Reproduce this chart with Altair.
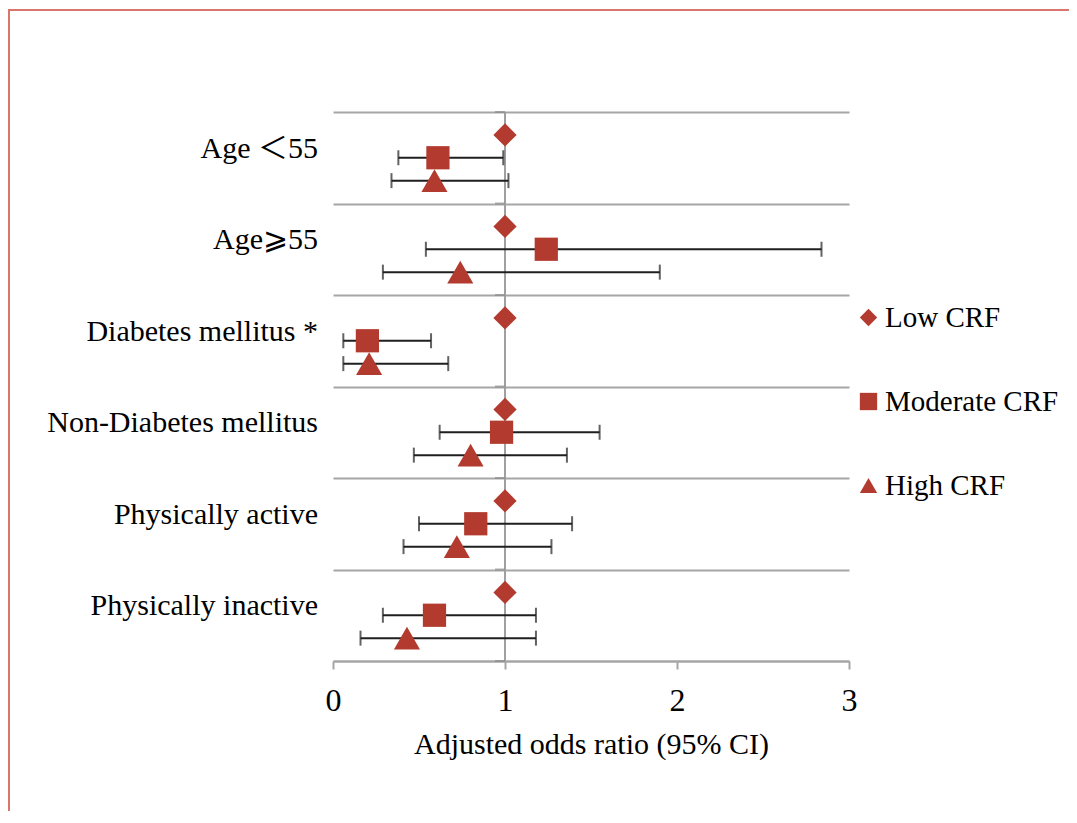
import altair as alt
import pandas as pd

# ---- data ----
groups = ["Age \uFF1C55", "Age\u2A7E55", "Diabetes mellitus *",
          "Non-Diabetes mellitus", "Physically active", "Physically inactive"]
series = ["Low CRF", "Moderate CRF", "High CRF"]

low_or = [1.0, 1.0, 1.0, 1.0, 1.0, 1.0]

mod_or = [0.61, 1.24, 0.20, 0.98, 0.83, 0.59]
mod_lo = [0.38, 0.54, 0.06, 0.62, 0.50, 0.29]
mod_hi = [0.99, 2.84, 0.57, 1.55, 1.39, 1.18]

high_or = [0.59, 0.74, 0.21, 0.80, 0.72, 0.43]
high_lo = [0.34, 0.29, 0.06, 0.47, 0.41, 0.16]
high_hi = [1.02, 1.90, 0.67, 1.36, 1.27, 1.18]

x_ticks = [0, 1, 2, 3]
ref_value = [1.0]
band_edges = [0, 1, 2, 3, 4, 5, 6]
row_offset = {"Low CRF": 0.25, "Moderate CRF": 0.5, "High CRF": 0.75}

# ---- tables ----
rows = []
for i, g in enumerate(groups):
    rows.append(dict(group=g, series="Low CRF", pos=i + row_offset["Low CRF"],
                     odds=low_or[i], lo=None, hi=None))
    rows.append(dict(group=g, series="Moderate CRF", pos=i + row_offset["Moderate CRF"],
                     odds=mod_or[i], lo=mod_lo[i], hi=mod_hi[i]))
    rows.append(dict(group=g, series="High CRF", pos=i + row_offset["High CRF"],
                     odds=high_or[i], lo=high_lo[i], hi=high_hi[i]))
df = pd.DataFrame(rows)
ci = df.dropna(subset=["lo"]).copy()
caps = pd.concat([
    ci[["pos"]].assign(val=ci["lo"]),
    ci[["pos"]].assign(val=ci["hi"]),
])
labels_df = pd.DataFrame({"group": groups, "lpos": [i + 0.5 for i in range(len(groups))]})
ref_df = pd.DataFrame({"ref": ref_value})
edge_df = pd.DataFrame({"edge": band_edges, "ref": [ref_value[0]] * len(band_edges)})

FONT = "Liberation Serif, DejaVu Serif, Noto Sans CJK SC"
RED = "#B33A2E"
GRID = "#A6A6A6"
BAR = "#1F1F1F"

xscale = alt.Scale(domain=[0, 3], nice=False, zero=False)
yscale = alt.Scale(domain=[0, 6], nice=False, zero=False, reverse=True)
xaxis = alt.Axis(values=x_ticks, grid=False, domainColor=GRID, domainWidth=2,
                 tickColor=GRID, tickWidth=2, tickSize=8, format="d", labelFlush=False,
                 labelFont=FONT, labelFontSize=32, labelColor="black", labelPadding=16,
                 title="Adjusted odds ratio (95% CI)", titleFont=FONT, titleFontSize=30,
                 titleFontWeight="normal", titleColor="black", titlePadding=13)
yaxis = alt.Axis(values=band_edges, grid=True, gridColor=GRID, gridWidth=2,
                 labels=False, ticks=False, domain=False, title=None)

base = alt.Chart(df)

border = alt.Chart(ref_df).mark_rect(fillOpacity=0, stroke="#D9766C", strokeWidth=2).encode(
    x=alt.value(-324), x2=alt.value(1400), y=alt.value(-102), y2=alt.value(1400))

vline = alt.Chart(ref_df).mark_rule(color="#A0A0A0", strokeWidth=2).encode(
    x=alt.X("ref:Q", scale=xscale, axis=xaxis))

yticks = alt.Chart(edge_df).mark_tick(orient="horizontal", size=10, thickness=2,
                                       xOffset=-5, color="#8C8C8C").encode(
    x=alt.X("ref:Q", scale=xscale, axis=xaxis),
    y=alt.Y("edge:Q", scale=yscale, axis=yaxis))

bars = alt.Chart(ci).mark_rule(color=BAR, strokeWidth=2).encode(
    x=alt.X("lo:Q", scale=xscale, axis=xaxis), x2="hi:Q",
    y=alt.Y("pos:Q", scale=yscale, axis=yaxis))

capmarks = alt.Chart(caps).mark_tick(orient="vertical", size=15, thickness=2, color=BAR).encode(
    x=alt.X("val:Q", scale=xscale, axis=xaxis),
    y=alt.Y("pos:Q", scale=yscale, axis=yaxis))

points = base.mark_point(filled=True, opacity=1, color=RED).encode(
    x=alt.X("odds:Q", scale=xscale, axis=xaxis),
    y=alt.Y("pos:Q", scale=yscale, axis=yaxis),
    shape=alt.Shape("series:N",
                    scale=alt.Scale(domain=series, range=["diamond", "square", "triangle-up"]),
                    legend=alt.Legend(orient="none", legendX=521, legendY=191, title=None,
                                      labelFont=FONT, labelFontSize=29, labelColor="black",
                                      labelLimit=400,
                                      symbolSize=300, symbolFillColor=RED,
                                      symbolStrokeColor=RED, symbolStrokeWidth=0,
                                      rowPadding=54, labelOffset=2, padding=0)),
    size=alt.condition("datum.series === 'High CRF'", alt.value(680), alt.value(540)))

texts = alt.Chart(labels_df).mark_text(align="right", baseline="middle", font=FONT,
                                       fontSize=30, color="black", dy=-9).encode(
    x=alt.value(-15),
    y=alt.Y("lpos:Q", scale=yscale, axis=yaxis),
    text="group:N")

chart = alt.layer(border, vline, yticks, bars, capmarks, points, texts).properties(
    width=516, height=549,
    autosize=alt.AutoSizeParams(type="none"),
    padding={"left": 325, "top": 104, "right": 220, "bottom": 150},
).configure_view(stroke=None)

chart.save("out.html", embed_options={"renderer": "svg", "actions": False})
